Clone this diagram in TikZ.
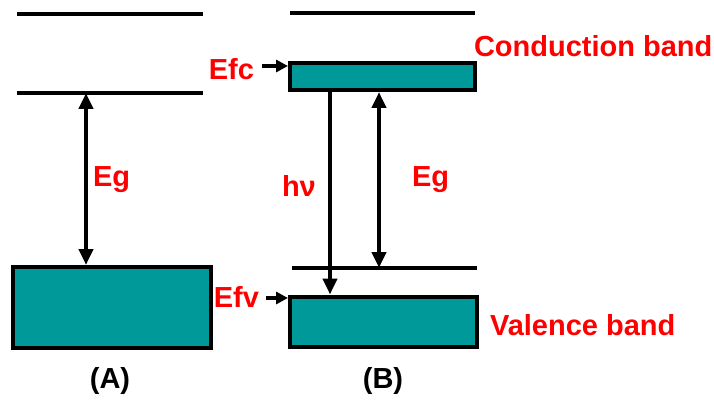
\documentclass[tikz,border=0pt]{standalone}
\usepackage{fontspec}
\setmainfont{Liberation Sans}
\usetikzlibrary{arrows.meta}
\definecolor{Ink}{HTML}{000000}
\definecolor{BandTeal}{HTML}{009999}
\definecolor{LabelRed}{HTML}{FF0000}

\begin{document}
\begin{tikzpicture}[x=1pt,y=-1pt,>={Triangle[length=16pt,width=14pt]},line width=4pt,
    band/.style={draw=Ink,fill=BandTeal,inner sep=0pt},
    lbl/.style={text=LabelRed,font=\fontsize{29}{32}\selectfont\bfseries,inner sep=0pt},
    panellbl/.style={font=\fontsize{29}{32}\selectfont\bfseries,inner sep=0pt}]
  \useasboundingbox (0,0) rectangle (714,401);
  % (A)
  \draw (17,14) -- (203,14);
  \coordinate (gapA) at (86,93);
  \draw (17,93) -- (203,93);
  \node[band,minimum width=198pt,minimum height=81pt] (bandA) at (112,307.5) {};
  \draw[<->] (gapA) -- (gapA |- bandA.north);
  \node[lbl,anchor=west] (egA) at (91,180) {Eg};
  \node[panellbl] (capA) at (110,381) {(A)};
  % (B)
  \draw (290,13) -- (475,13);
  \node[band,minimum width=185pt,minimum height=27pt] (bandC) at (382.5,76.5) {};
  \coordinate (lineV) at (379,268);
  \coordinate (hnuX) at (330,0);
  \draw (292,268) -- (477,268);
  \node[band,minimum width=187pt,minimum height=50pt] (bandV) at (383.5,321.5) {};
  \draw[->] (bandC.south -| hnuX) -- (bandV.north -| hnuX);
  \draw[<->] (bandC.south -| lineV) -- (lineV);
  \node[lbl,anchor=west] (hnu) at (280,186) {hν};
  \node[lbl,anchor=west] (egB) at (410,180) {Eg};
  \node[lbl,anchor=east] (efc) at (256,69) {Efc};
  \node[lbl,anchor=east] (efv) at (261,297) {Efv};
  \coordinate (efcT) at (262,66);
  \coordinate (efvT) at (266,298);
  \draw[->,line width=3.5pt,>={Triangle[length=12pt,width=12pt]}] (efcT) -- (efcT -| bandC.west);
  \draw[->,line width=3.5pt,>={Triangle[length=12pt,width=12pt]}] (efvT) -- (efvT -| bandV.west);
  \node[lbl,anchor=west] (cband) at (472,46) {Conduction band};
  \node[lbl,anchor=west] (vband) at (488,325) {Valence band};
  \node[panellbl] (capB) at (383,381) {(B)};
\end{tikzpicture}
\end{document}
